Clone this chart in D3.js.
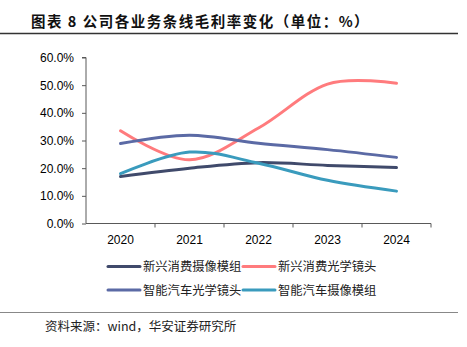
<!DOCTYPE html>
<html>
<head>
<meta charset="utf-8">
<script src="https://cdn.jsdelivr.net/npm/d3@7"></script>
<style>
  body { margin: 0; background: #fff; }
  svg { display: block; }
  .axis path, .axis line { stroke: #595959; }
  .axis text { font-family: "Liberation Sans", Arial, sans-serif; font-size: 12px; fill: #000; }
</style>
</head>
<body>
<svg width="467" height="347"></svg>
<script>
var years = ["2020", "2021", "2022", "2023", "2024"];
var seriesNames = ["新兴消费摄像模组", "新兴消费光学镜头", "智能汽车光学镜头", "智能汽车摄像模组"];
var consumerModule = [17.0, 20.0, 22.0, 21.0, 20.2];
var consumerLens   = [33.5, 23.0, 34.5, 50.4, 50.7];
var autoLens       = [28.9, 31.9, 29.0, 26.7, 23.9];
var autoModule     = [18.0, 25.8, 21.8, 15.6, 11.7];
var yTicks = [0, 10, 20, 30, 40, 50, 60];
var colors = ["#404a6b", "#ff7b7d", "#5b6aa5", "#3a9bbd"];

var series = [consumerModule, consumerLens, autoLens, autoModule];

var svg = d3.select("svg");
var font = '"Noto Sans CJK SC", "Noto Sans", sans-serif';

// title + rule
svg.append("text")
    .attr("x", 31).attr("y", 27)
    .attr("font-family", font)
    .attr("font-size", 14.5)
    .attr("font-weight", "bold")
    .attr("letter-spacing", 1.5)
    .attr("fill", "#111")
    .text("图表 8 公司各业务条线毛利率变化（单位：%）");
svg.append("line")
    .attr("x1", 0).attr("x2", 458)
    .attr("y1", 33.5).attr("y2", 33.5)
    .attr("stroke", "#333").attr("stroke-width", 1.3);

var x = d3.scaleBand().domain(years).range([86, 431]);
var y = d3.scaleLinear().domain([0, 60]).range([223.5, 57.5]);

// y axis
svg.append("g")
    .attr("class", "axis")
    .attr("transform", "translate(86,0)")
    .call(d3.axisLeft(y).tickValues(yTicks).tickSize(4).tickPadding(8)
        .tickFormat(function(d) { return d.toFixed(1) + "%"; }))
    .call(function(g) { g.select(".domain").attr("d", "M-4," + y(60) + "H0V" + y(0)); });

// x axis, ticks at band edges
var xAxis = svg.append("g")
    .attr("class", "axis")
    .attr("transform", "translate(0,223.5)")
    .call(d3.axisBottom(x).tickSize(0).tickPadding(12));
xAxis.select(".domain").attr("d", "M86,0H431");
xAxis.selectAll(".edge")
    .data(years.slice(1).concat(["end"]))
    .enter().append("line")
    .attr("class", "edge")
    .attr("x1", function(d, i) { return x(years[0]) + x.step() * (i + 1); })
    .attr("x2", function(d, i) { return x(years[0]) + x.step() * (i + 1); })
    .attr("y1", 0).attr("y2", 4);

// smoothed lines
var line = d3.line()
    .x(function(d, i) { return x(years[i]) + x.bandwidth() / 2; })
    .y(function(d) { return y(d); })
    .curve(d3.curveCardinal.tension(0));

svg.append("g")
    .selectAll("path")
    .data(series)
    .enter().append("path")
    .attr("d", line)
    .attr("fill", "none")
    .attr("stroke", function(d, i) { return colors[i]; })
    .attr("stroke-width", 3)
    .attr("stroke-linecap", "round");

// legend, two columns
var legend = svg.append("g")
    .selectAll("g")
    .data(seriesNames)
    .enter().append("g")
    .attr("transform", function(d, i) {
        return "translate(" + (108 + (i % 2) * 135) + "," + (266.5 + Math.floor(i / 2) * 23.5) + ")";
    });
legend.append("line")
    .attr("x1", 0).attr("x2", 32)
    .attr("stroke", function(d, i) { return colors[i]; })
    .attr("stroke-width", 3)
    .attr("stroke-linecap", "round");
legend.append("text")
    .attr("x", 35).attr("y", 4.5)
    .attr("font-family", font)
    .attr("font-size", 12.3)
    .attr("fill", "#222")
    .text(function(d) { return d; });

// source note
svg.append("line")
    .attr("x1", 0).attr("x2", 458)
    .attr("y1", 312.5).attr("y2", 312.5)
    .attr("stroke", "#888").attr("stroke-width", 1.2);
svg.append("text")
    .attr("x", 45).attr("y", 331)
    .attr("font-family", font)
    .attr("font-size", 12.5)
    .attr("fill", "#222")
    .text("资料来源：wind，华安证券研究所");
</script>
</body>
</html>
